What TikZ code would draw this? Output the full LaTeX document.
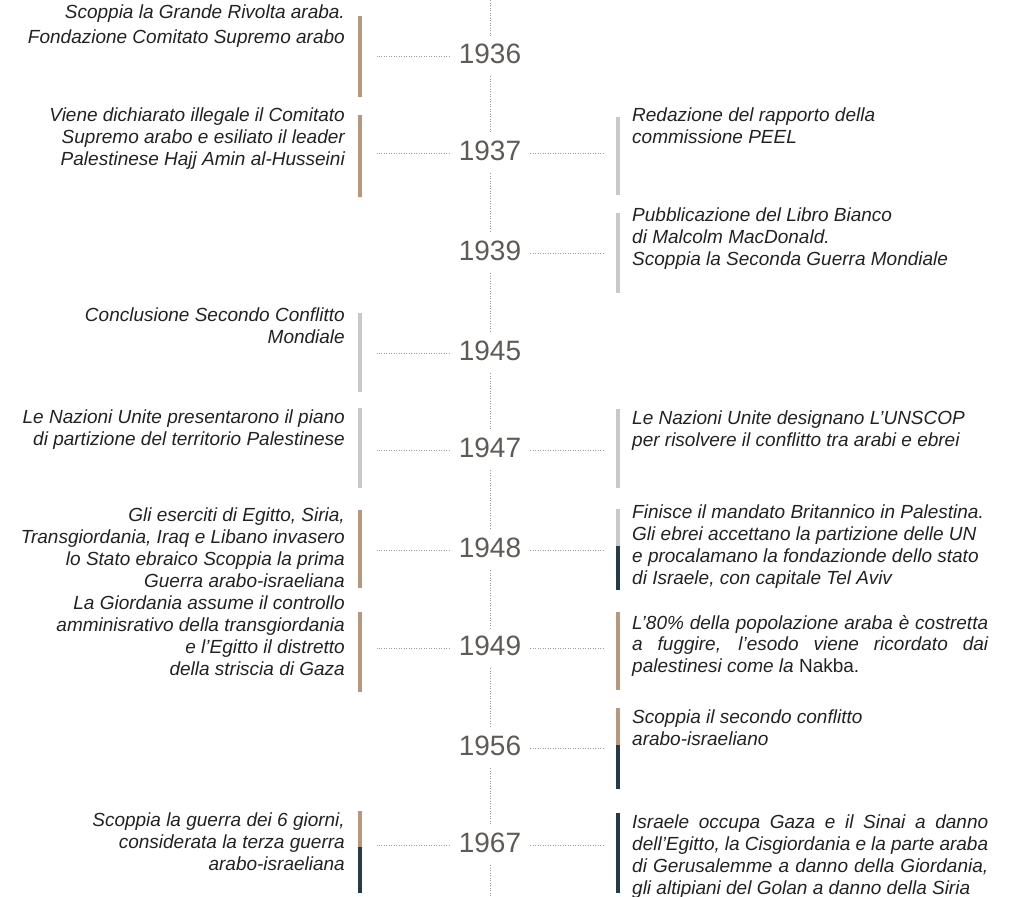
\documentclass[tikz,border=0pt]{standalone}
\usepackage{fontspec}
\setmainfont{Liberation Sans}
\usepackage{tikz}
\tolerance=10000
\hbadness=10000
\definecolor{sand}{HTML}{B7987D}
\definecolor{ash}{HTML}{C8C8C8}
\definecolor{night}{HTML}{243B4A}
\definecolor{yeargray}{HTML}{5E5A55}
\definecolor{inkgray}{HTML}{222222}
\definecolor{dotgray}{HTML}{9C9C9C}
\tikzstyle{year} = [text=yeargray, font=\fontsize{28}{28}\selectfont,
                    text height=20pt, text depth=6pt,
                    inner xsep=9pt, inner ysep=7pt]
\tikzstyle{event} = [text=inkgray, inner sep=0pt,
                     font=\fontsize{19}{21.7}\selectfont\itshape]
\tikzstyle{eventL} = [event, anchor=north east, align=right]
\tikzstyle{eventR} = [event, anchor=north west, align=left]
\tikzstyle{eventJ} = [event, anchor=north west, text width=356pt, align=justify]
\tikzstyle{link} = [draw=dotgray, line width=0.9pt, dash pattern=on 0.9pt off 1.6pt]
\tikzstyle{bar} = [line width=4pt]

\begin{document}
\begin{tikzpicture}[x=1pt, y=-1pt]%
  \useasboundingbox (0,0) rectangle (1018,897);
  % years on the axis
  \node[year] (y1936) at (490,56) {1936};
  \node[year] (y1937) at (490,153) {1937};
  \node[year] (y1939) at (490,253) {1939};
  \node[year] (y1945) at (490,353) {1945};
  \node[year] (y1947) at (490,450) {1947};
  \node[year] (y1948) at (490,550) {1948};
  \node[year] (y1949) at (490,648) {1949};
  \node[year] (y1956) at (490,748) {1956};
  \node[year] (y1967) at (490,845) {1967};
  \coordinate (top) at (490,0);
  \coordinate (bottom) at (490,897);
  \draw[link] (top) -- (y1936.north);
  \draw[link] (y1936.south) -- (y1937.north);
  \draw[link] (y1937.south) -- (y1939.north);
  \draw[link] (y1939.south) -- (y1945.north);
  \draw[link] (y1945.south) -- (y1947.north);
  \draw[link] (y1947.south) -- (y1948.north);
  \draw[link] (y1948.south) -- (y1949.north);
  \draw[link] (y1949.south) -- (y1956.north);
  \draw[link] (y1956.south) -- (y1967.north);
  \draw[link] (y1967.south) -- (bottom);

  % left column
  \coordinate (l1936) at (377,56);
  \coordinate (l1937) at (377,153);
  \coordinate (l1945) at (377,353);
  \coordinate (l1947) at (377,450);
  \coordinate (l1948) at (377,550);
  \coordinate (l1949) at (377,648);
  \coordinate (l1967) at (377,845);
  \draw[link] (y1936.west) -- (l1936);
  \draw[link] (y1937.west) -- (l1937);
  \draw[link] (y1945.west) -- (l1945);
  \draw[link] (y1947.west) -- (l1947);
  \draw[link] (y1948.west) -- (l1948);
  \draw[link] (y1949.west) -- (l1949);
  \draw[link] (y1967.west) -- (l1967);
  \draw[bar, sand] (360,16) -- (360,97);
  \draw[bar, sand] (360,115) -- (360,197);
  \draw[bar, ash] (360,313) -- (360,392);
  \draw[bar, ash] (360,408) -- (360,488);
  \draw[bar, sand] (360,510) -- (360,588);
  \draw[bar, sand] (360,612) -- (360,692);
  \draw[bar, sand] (360,811) -- (360,847);
  \draw[bar, night] (360,847) -- (360,893);
  \node[eventL] (t1936) at (345,5) {Scoppia la Grande Rivolta araba.\\[3pt]
    Fondazione Comitato Supremo arabo};
  \node[eventL] (t1937) at (345,108) {Viene dichiarato illegale il Comitato\\
    Supremo arabo e esiliato il leader\\ Palestinese Hajj Amin al-Husseini};
  \node[eventL] (t1945) at (345,308) {Conclusione Secondo Conflitto\\ Mondiale};
  \node[eventL] (t1947) at (345,410) {Le Nazioni Unite presentarono il piano\\
    di partizione del territorio Palestinese};
  \node[eventL] (t1948) at (345,508) {Gli eserciti di Egitto, Siria,\\
    Transgiordania, Iraq e Libano invasero\\ lo Stato ebraico Scoppia la prima\\
    Guerra arabo-israeliana};
  \node[eventL] (t1949) at (345,596) {La Giordania assume il controllo\\
    amminisrativo della transgiordania\\ e l'Egitto il distretto\\
    della striscia di Gaza};
  \node[eventL] (t1967) at (345,813) {Scoppia la guerra dei 6 giorni,\\
    considerata la terza guerra\\ arabo-israeliana};

  % right column
  \coordinate (r1937) at (603,153);
  \coordinate (r1939) at (603,253);
  \coordinate (r1947) at (603,450);
  \coordinate (r1948) at (603,550);
  \coordinate (r1949) at (603,648);
  \coordinate (r1956) at (603,748);
  \coordinate (r1967) at (603,845);
  \draw[link] (y1937.east) -- (r1937);
  \draw[link] (y1939.east) -- (r1939);
  \draw[link] (y1947.east) -- (r1947);
  \draw[link] (y1948.east) -- (r1948);
  \draw[link] (y1949.east) -- (r1949);
  \draw[link] (y1956.east) -- (r1956);
  \draw[link] (y1967.east) -- (r1967);
  \draw[bar, ash] (618,117) -- (618,195);
  \draw[bar, ash] (618,213) -- (618,293);
  \draw[bar, ash] (618,409) -- (618,488);
  \draw[bar, ash] (618,509) -- (618,546);
  \draw[bar, night] (618,546) -- (618,590);
  \draw[bar, sand] (618,612) -- (618,690);
  \draw[bar, sand] (618,708) -- (618,745);
  \draw[bar, night] (618,745) -- (618,789);
  \draw[bar, night] (618,813) -- (618,893);
  \node[eventR] (s1937) at (632,108) {Redazione del rapporto della\\ commissione PEEL};
  \node[eventR] (s1939) at (632,208) {Pubblicazione del Libro Bianco\\
    di Malcolm MacDonald.\\ Scoppia la Seconda Guerra Mondiale};
  \node[eventR] (s1947) at (632,411) {Le Nazioni Unite designano L'UNSCOP\\
    per risolvere il conflitto tra arabi e ebrei};
  \node[eventR] (s1948) at (632,505) {Finisce il mandato Britannico in Palestina.\\
    Gli ebrei accettano la partizione delle UN\\
    e procalamano la fondazionde dello stato\\ di Israele, con capitale Tel Aviv};
  \node[eventJ] (s1949) at (632,615) {L'80\% della popolazione araba è costretta\linebreak
    a fuggire, l'esodo viene ricordato dai\linebreak
    palestinesi come la {\upshape Nakba.}};
  \node[eventR] (s1956) at (632,710) {Scoppia il secondo conflitto\\ arabo-israeliano};
  \node[eventJ] (s1967) at (632,815) {Israele occupa Gaza e il Sinai a danno\linebreak
    dell'Egitto, la Cisgiordania e la parte araba\linebreak
    di Gerusalemme a danno della Giordania,\linebreak
    gli altipiani del Golan a danno della Siria};
\end{tikzpicture}
\end{document}
